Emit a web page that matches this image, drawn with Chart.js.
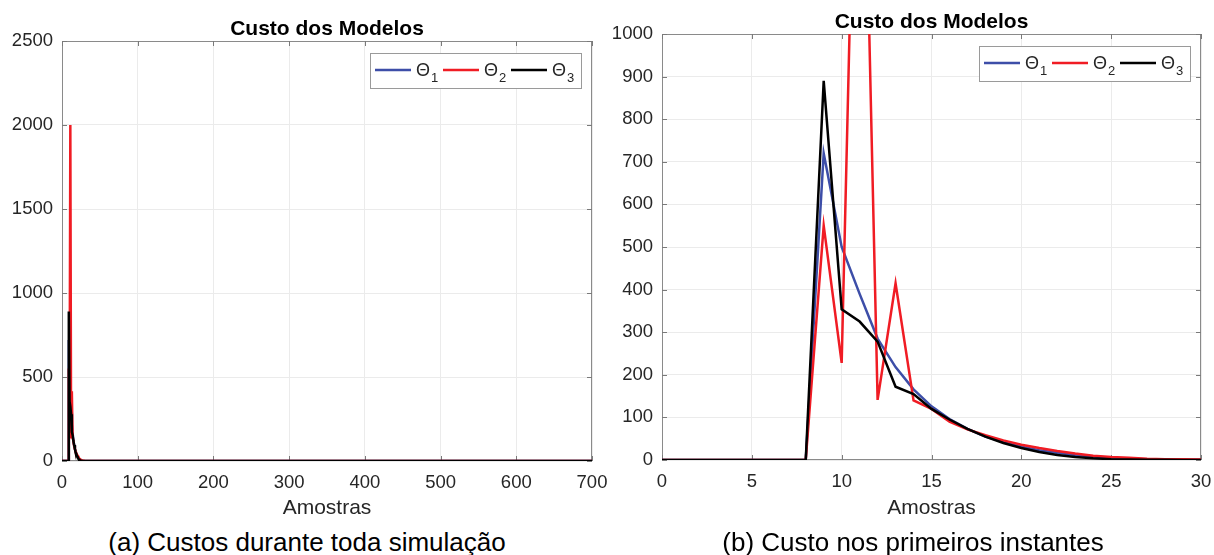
<!DOCTYPE html>
<html><head><meta charset="utf-8">
<script src="https://cdn.jsdelivr.net/npm/chart.js@4.4.1/dist/chart.umd.min.js"></script>
<style>
html,body{margin:0;padding:0;background:#fff;width:1214px;height:555px;overflow:hidden;position:relative;}
.wrap{position:absolute;top:0;height:525px;}
.cap{position:absolute;top:527px;line-height:30px;font-family:"Liberation Sans",Arial,sans-serif;font-size:26px;color:#000;white-space:nowrap;transform:translateX(-50%);}
</style></head><body>
<div class="wrap" style="left:0;width:620px;"><canvas id="c1"></canvas></div>
<div class="wrap" style="left:610px;width:614px;"><canvas id="c2"></canvas></div>
<div class="cap" style="left:307px;">(a) Custos durante toda simulação</div>
<div class="cap" style="left:913px;">(b) Custo nos primeiros instantes</div>
<script>
// ---- data ----
const samples = [0,1,2,3,4,5,6,7,8,9,10,11,12,13,14,15,16,17,18,19,20,21,22,23,24,25,26,27,28,29,30];
const theta1 = [0,0,0,0,0,0,0,0,0,720,500,390,285,218,166,126,96,73,55,42,31,23,17,12,8,5,3,2,1,0.5,0.3];
const theta2 = [0,0,0,0,0,0,0,0,0,550,228,2000,141,415,140,120,90,72,58,46,36,28,21,15,10,7,5,3,2,1.5,1];
const theta3 = [0,0,0,0,0,0,0,0,0,890,354,325,278,172,155,120,95,73,55,40,28,19,12,7,4,2,1,0.5,0.3,0.2,0.1];
// later samples of the full simulation (values close to zero)
const tailSamples = [40,50,60,100,700];
const theta1Tail = [0.1,0,0,0,0];
const theta2Tail = [0.5,0.3,0.1,0,0];
const theta3Tail = [0,0,0,0,0];

const seriesLabels = ['1','2','3'];      // subscripts of Θ
const seriesColors = ['#3d4ea8','#f01c24','#000000'];
const chartTitle = 'Custo dos Modelos';
const xAxisTitle = 'Amostras';
const leftYTicks = {min:0,max:2500,step:500};
const leftXTicks = {min:0,max:700,step:100};
const rightYTicks = {min:0,max:1000,step:100};
const rightXTicks = {min:0,max:30,step:5};

const FONT = '"Liberation Sans", Arial, Helvetica, sans-serif';
const TXT = '#262626';

function pts(xs, ys){ return xs.map((x,i)=>({x:x,y:ys[i]})); }

const framePlugin = {
  id:'matlabFrame',
  beforeDatasetsDraw(chart){
    const {ctx, chartArea:a, scales} = chart;
    ctx.save();
    ctx.strokeStyle = '#8a8a8a';
    ctx.lineWidth = 1;
    ctx.strokeRect(a.left+0.5, a.top+0.5, a.right-a.left-1, a.bottom-a.top-1);
    ctx.strokeStyle = '#7a7a7a';
    ctx.beginPath();
    scales.x.ticks.forEach(t=>{
      const p = Math.round(scales.x.getPixelForValue(t.value))+0.5;
      ctx.moveTo(p,a.bottom); ctx.lineTo(p,a.bottom-5);
      ctx.moveTo(p,a.top); ctx.lineTo(p,a.top+5);
    });
    scales.y.ticks.forEach(t=>{
      const p = Math.round(scales.y.getPixelForValue(t.value))+0.5;
      ctx.moveTo(a.left,p); ctx.lineTo(a.left+5,p);
      ctx.moveTo(a.right,p); ctx.lineTo(a.right-5,p);
    });
    ctx.stroke();
    ctx.restore();
  },
  afterDraw(chart){
    const {ctx, chartArea:a} = chart;
    ctx.save();
    // title
    ctx.fillStyle = '#000';
    ctx.font = 'bold 21px ' + FONT;
    ctx.textAlign = 'center';
    ctx.textBaseline = 'alphabetic';
    ctx.fillText(chartTitle, (a.left+a.right)/2, a.top-6);
    // legend
    const w = 211, h = 35;
    const bx = a.right - 11 - w, by = a.top + 12;
    ctx.fillStyle = '#fff';
    ctx.fillRect(bx, by, w, h);
    ctx.strokeStyle = '#9a9a9a';
    ctx.lineWidth = 1;
    ctx.strokeRect(Math.round(bx)+0.5, Math.round(by)+0.5, w, h);
    const cy = by + 17;
    chart.data.datasets.forEach((ds,i)=>{
      const x0 = bx + 5 + i*68;
      ctx.strokeStyle = ds.borderColor;
      ctx.lineWidth = 2.5;
      ctx.beginPath(); ctx.moveTo(x0,cy); ctx.lineTo(x0+36,cy); ctx.stroke();
      ctx.fillStyle = TXT;
      ctx.textAlign = 'left';
      ctx.textBaseline = 'alphabetic';
      ctx.font = '18px ' + FONT;
      ctx.fillText('Θ', x0+41, cy+6);
      const tw = ctx.measureText('Θ').width;
      ctx.font = '13px ' + FONT;
      ctx.fillText(seriesLabels[i], x0+42+tw, cy+12);
    });
    ctx.restore();
  }
};

function makeChart(id, datasetsData, xT, yT, padTop, padRight, yWidth, xHeight){
  return new Chart(document.getElementById(id), {
    type:'line',
    data:{
      datasets: datasetsData.map((d,i)=>({
        label:'Θ'+seriesLabels[i],
        data:d,
        borderColor:seriesColors[i],
        backgroundColor:seriesColors[i],
        borderWidth:2.5,
        pointRadius:0,
        tension:0,
        fill:false,
        order:3-i
      }))
    },
    options:{
      responsive:true,
      maintainAspectRatio:false,
      animation:false,
      layout:{padding:{top:padTop,right:padRight,left:0,bottom:0}},
      plugins:{legend:{display:false},tooltip:{enabled:false},title:{display:false}},
      scales:{
        x:{
          type:'linear', min:xT.min, max:xT.max,
          ticks:{stepSize:xT.step, color:TXT, font:{family:FONT,size:18.5}, padding:11, maxRotation:0, autoSkip:false,
                 callback:(v)=>String(v)},
          grid:{color:'#ebebeb', drawTicks:false},
          border:{display:false},
          title:{display:true, text:xAxisTitle, color:TXT, font:{family:FONT,size:21}, padding:{top:0,bottom:4}},
          afterFit(s){ s.height = xHeight; }
        },
        y:{
          type:'linear', min:yT.min, max:yT.max,
          ticks:{stepSize:yT.step, color:TXT, font:{family:FONT,size:18.5}, padding:9, autoSkip:false,
                 callback:(v)=>String(v)},
          grid:{color:'#ebebeb', drawTicks:false},
          border:{display:false},
          afterFit(s){ s.width = yWidth; }
        }
      }
    },
    plugins:[framePlugin]
  });
}

makeChart('c1', [
  pts(samples.concat(tailSamples), theta1.concat(theta1Tail)),
  pts(samples.concat(tailSamples), theta2.concat(theta2Tail)),
  pts(samples.concat(tailSamples), theta3.concat(theta3Tail))
], leftXTicks, leftYTicks, 41, 28, 62, 64);

makeChart('c2', [
  pts(samples, theta1),
  pts(samples, theta2),
  pts(samples, theta3)
], rightXTicks, rightYTicks, 34, 23, 52, 65);
</script>
</body></html>
